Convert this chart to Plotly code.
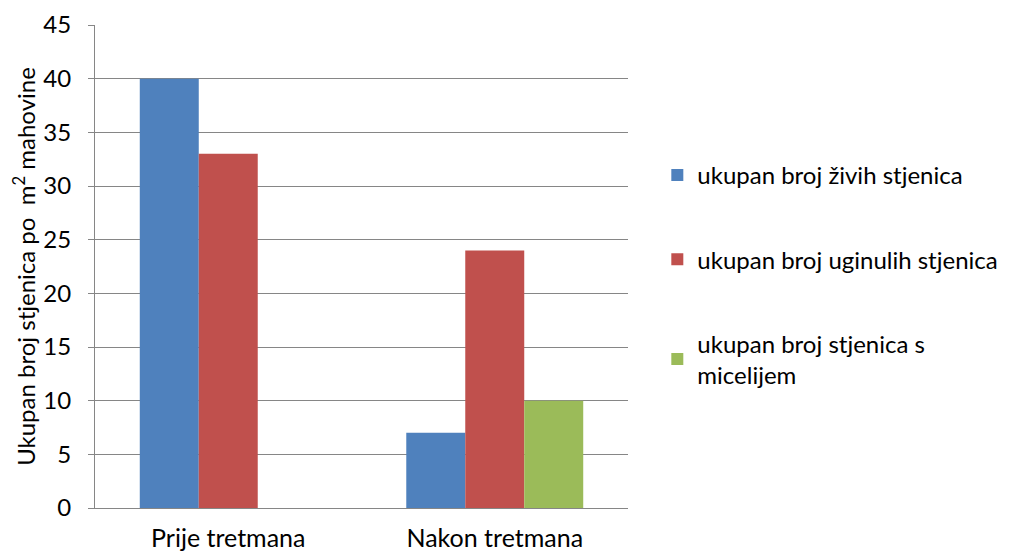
import plotly.graph_objects as go

categories = ["Prije tretmana", "Nakon tretmana"]
series_names = ["ukupan broj živih stjenica", "ukupan broj uginulih stjenica", "ukupan broj stjenica s<br>micelijem"]
zivi = [40, 7]
uginuli = [33, 24]
micelij = [0, 10]
colors = ["#4F81BD", "#C0504D", "#9BBB59"]
y_ticks = [0, 5, 10, 15, 20, 25, 30, 35, 40, 45]

fig = go.Figure()
for i, (name, vals) in enumerate(zip(series_names, [zivi, uginuli, micelij])):
    fig.add_trace(go.Bar(x=categories, y=vals, name=name, marker_color=colors[i],
                         marker_line_width=0, legendgroup=str(i)))

font_family = "Lato, Open Sans, sans-serif"
fig.update_layout(
    width=1012, height=553,
    margin=dict(l=87, r=392, t=17, b=53, autoexpand=False),
    plot_bgcolor="white", paper_bgcolor="white",
    barmode="group", bargap=0.336, bargroupgap=0,
    font=dict(family=font_family, size=24, color="#000000"),
    legend=dict(x=1.055, y=0.735, xanchor="left", yanchor="top",
                traceorder="grouped", tracegroupgap=50, itemwidth=30,
                font=dict(size=24, color="#000000")),
    xaxis=dict(showline=True, linecolor="#868686", linewidth=1,
               ticks="", tickfont=dict(size=25), showgrid=False, automargin=False,
               ticklabelstandoff=8),
    yaxis=dict(range=[0, 45], tickvals=y_ticks, showgrid=True,
               gridcolor="#868686", gridwidth=1, showline=True,
               linecolor="#868686", linewidth=1, ticks="outside", ticklen=6,
               tickcolor="#868686", tickfont=dict(size=24), zeroline=False,
               automargin=False, ticklabelstandoff=12,
               title=dict(text="Ukupan broj stjenica po  m<sup>2</sup> mahovine",
                          font=dict(size=24))),
)
fig.write_html("out.html")
